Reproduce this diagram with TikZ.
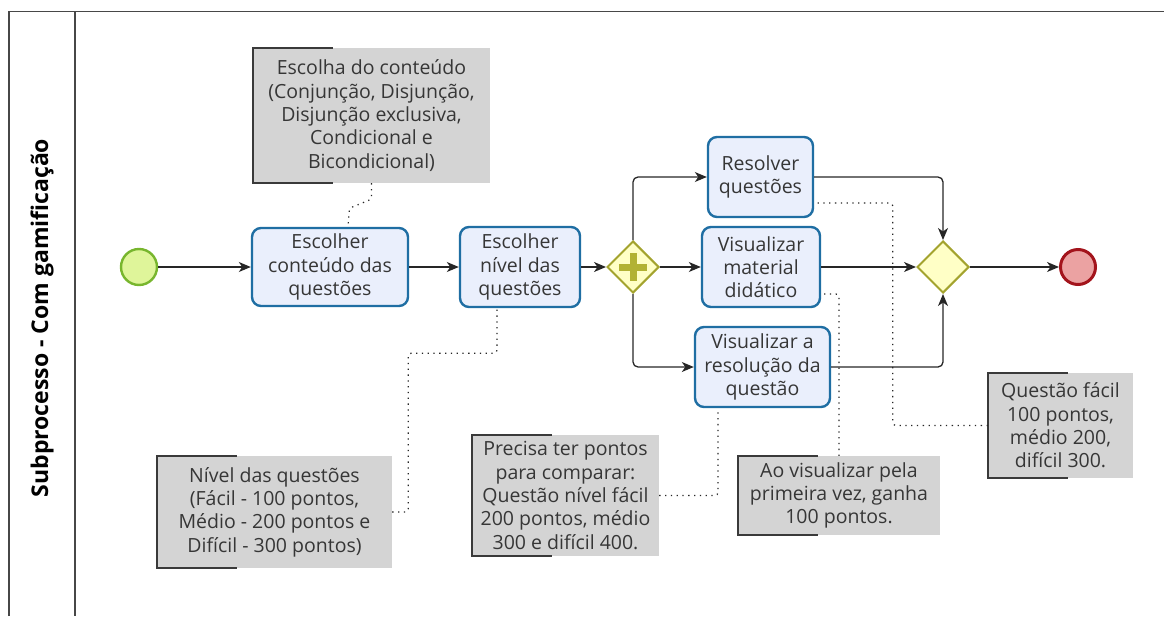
\documentclass[tikz,border=0pt]{standalone}
\usepackage{fontspec}
\setmainfont{Open Sans}
\usetikzlibrary{arrows.meta,shapes.geometric,calc}

\definecolor{txt}{HTML}{363636}
\definecolor{poolline}{HTML}{474747}
\definecolor{taskfill}{HTML}{EAEFFC}
\definecolor{taskline}{HTML}{1F6EA3}
\definecolor{gwfill}{HTML}{FFFFC6}
\definecolor{gwline}{HTML}{A3A32E}
\definecolor{gwmark}{HTML}{B2B234}
\definecolor{startfill}{HTML}{DFF59A}
\definecolor{startline}{HTML}{78B62E}
\definecolor{endfill}{HTML}{EBA2A2}
\definecolor{endline}{HTML}{A3141C}
\definecolor{notefill}{HTML}{D4D4D4}
\definecolor{noteline}{HTML}{3A3A3A}
\definecolor{flowline}{HTML}{262626}

\tikzset{
  txtfont/.style={font=\fontsize{19.5}{23.3}\selectfont, text=txt},
  task/.style={txtfont, draw=taskline, fill=taskfill, line width=2.4pt,
    rounded corners=9pt, align=center, inner sep=0pt},
  gateway/.style={diamond, aspect=1, draw=gwline, fill=gwfill, line width=2pt,
    minimum width=52pt, minimum height=52pt, inner sep=0pt},
  startev/.style={circle, draw=startline, fill=startfill, line width=2.4pt,
    minimum size=36pt, inner sep=0pt},
  endev/.style={circle, draw=endline, fill=endfill, line width=3pt,
    minimum size=35pt, inner sep=0pt},
  note/.style={txtfont, fill=notefill, align=center, inner sep=0pt},
  bracket/.style={draw=noteline, line width=1.6pt},
  flow/.style={draw=flowline, line width=1.3pt, rounded corners=5pt,
    -{Stealth[length=12pt,width=10pt,inset=3.5pt]}},
  assoc/.style={draw=flowline, line width=1.2pt, rounded corners=3pt,
    dash pattern=on 1.3pt off 4.5pt},
  pool/.style={draw=poolline, line width=1.5pt}
}

\newcommand{\notebracket}[1]{%
  \draw[bracket] ($(#1.north west)+(80,0)$) -- (#1.north west)
    -- (#1.south west) -- ($(#1.south west)+(80,0)$);}

\begin{document}
\begin{tikzpicture}[x=1pt,y=-1pt]
\useasboundingbox (0,0) rectangle (1164,616);

% pool and lane
\draw[pool] (9,616) -- (9,11.5) -- (1164,11.5);
\draw[pool] (75,11.5) -- (75,616);
\node[rotate=90, font=\bfseries\fontsize{23}{28}\selectfont, text=black]
  (lane) at (42,318) {Subprocesso - Com gamificação};

% events and gateways
\node[startev] (start) at (139,267) {};
\node[endev] (end) at (1078,267) {};
\node[gateway] (split) at (633,267) {};
\draw[gwmark, line width=7pt] ($(split)+(-14,0)$) -- ($(split)+(14,0)$)
  ($(split)+(0,-14)$) -- ($(split)+(0,14)$);
\node[gateway] (join) at (943,267) {};

% tasks
\node[task, minimum width=156pt, minimum height=78pt] (t1) at (330,267)
  {Escolher\\conteúdo das\\questões};
\node[task, minimum width=120pt, minimum height=80pt] (t2) at (520,267)
  {Escolher\\nível das\\questões};
\node[task, minimum width=105pt, minimum height=80pt] (t3) at (760.5,177)
  {Resolver\\questões};
\node[task, minimum width=118pt, minimum height=80pt] (t4) at (761,267)
  {Visualizar\\material\\didático};
\node[task, minimum width=135pt, minimum height=80pt] (t5) at (762.5,367)
  {Visualizar a\\resolução da\\questão};

% text annotations
\node[note, minimum width=237pt, minimum height=135pt] (a1) at (371.5,115.5)
  {Escolha do conteúdo\\(Conjunção, Disjunção,\\Disjunção exclusiva,\\Condicional e\\Bicondicional)};
\notebracket{a1}
\node[note, minimum width=235pt, minimum height=112pt] (a2) at (274.5,512)
  {Nível das questões\\(Fácil - 100 pontos,\\Médio - 200 pontos e\\Difícil - 300 pontos)};
\notebracket{a2}
\node[note, minimum width=187pt, minimum height=121pt] (a3) at (565.5,495.5)
  {Precisa ter pontos\\para comparar:\\Questão nível fácil\\200 pontos, médio\\300 e difícil 400.};
\notebracket{a3}
\node[note, minimum width=202pt, minimum height=79pt] (a4) at (839,495.5)
  {Ao visualizar pela\\primeira vez, ganha\\100 pontos.};
\notebracket{a4}
\node[note, minimum width=145pt, minimum height=105pt] (a5) at (1060.5,425.5)
  {Questão fácil\\100 pontos,\\médio 200,\\difícil 300.};
\notebracket{a5}

% sequence flows
\draw[flow] (start) -- (t1);
\draw[flow] (t1) -- (t2);
\draw[flow] (t2) -- (split);
\draw[flow] (split) -- (t4);
\draw[flow] (split.north) |- (t3.west);
\draw[flow] (split.south) |- (t5.west);
\draw[flow] (t3.east) -| (join.north);
\draw[flow] (t4) -- (join);
\draw[flow] (t5.east) -| (join.south);
\draw[flow] (join) -- (end);

% associations
\draw[assoc] (a1.south) -- ++(0,16) -- ++(-22,9) -- ($(t1.north)+(18,0)$);
\draw[assoc] (a2.east) -- ++(16,0) |- ($(t2.south)+(-23,45)$) -- ($(t2.south)+(-23,0)$);
\draw[assoc] (a3.east) -| ($(t5.south)+(-44.5,0)$);
\draw[assoc] (a4.north) |- ($(t4.east)+(0,27)$);
\draw[assoc] (a5.west) -- ++(-95,0) |- ($(t3.east)+(0,26)$);
\end{tikzpicture}
\end{document}
